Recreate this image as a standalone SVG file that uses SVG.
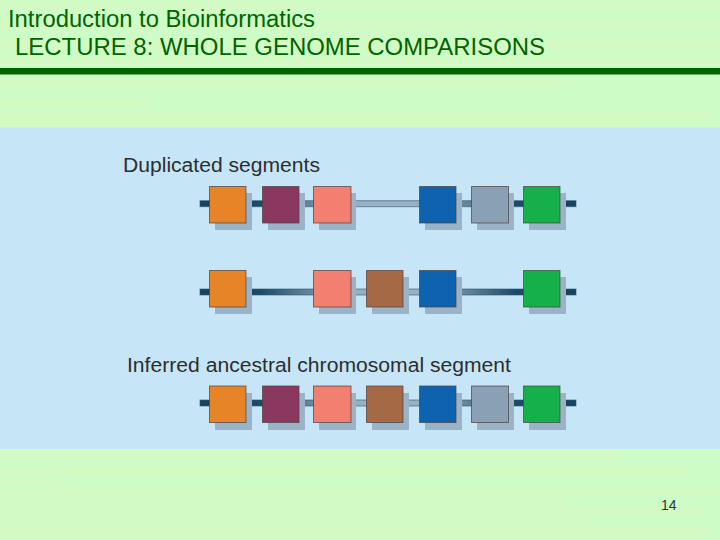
<svg xmlns="http://www.w3.org/2000/svg" width="720" height="540" viewBox="0 0 720 540">
<style>
.title{font-family:"Liberation Sans",Arial,sans-serif;font-size:23px;fill:#006400}
.lbl{font-family:"Liberation Sans",Arial,sans-serif;font-size:19.5px;fill:#2e2e2e}
.num{font-family:"Liberation Sans",Arial,sans-serif;font-size:14px;fill:#333}
.tex{fill:#e2f6b8;opacity:0.3}
.sh{fill:#9bb3c7}
.bx{stroke:#4a4040;stroke-opacity:0.7;stroke-width:1}
.chr{fill:url(#chrg);stroke:#2f5672;stroke-opacity:0.6;stroke-width:1}
.or{fill:#e88428}.pu{fill:#8a3860}.pk{fill:#f28070}.br{fill:#a56a45}.bl{fill:#0f62ae}.gr{fill:#8aa0b4}.gn{fill:#16b04a}
</style>
<defs>
<linearGradient id="chrg" gradientUnits="userSpaceOnUse" x1="200" y1="0" x2="576" y2="0">
<stop offset="0" stop-color="#17425e"/>
<stop offset="0.16" stop-color="#1d4a66"/>
<stop offset="0.28" stop-color="#5f8199"/>
<stop offset="0.4" stop-color="#9ab0c0"/>
<stop offset="0.58" stop-color="#9ab0c0"/>
<stop offset="0.7" stop-color="#6a889c"/>
<stop offset="0.84" stop-color="#1d4a66"/>
<stop offset="1" stop-color="#17425e"/>
</linearGradient>
</defs>
<rect width="720" height="540" fill="#cdfcc6"/>
<g id="texture">
<rect class="tex" x="0" y="2" width="720" height="8"/>
<rect class="tex" x="0" y="22" width="720" height="8"/>
<rect class="tex" x="0" y="40" width="720" height="9"/>
<rect class="tex" x="0" y="57" width="720" height="7"/>
<rect class="tex" x="0" y="80" width="560" height="8"/>
<rect class="tex" x="0" y="101" width="150" height="7"/>
<rect class="tex" x="0" y="112" width="710" height="8"/>
<rect class="tex" x="0" y="120" width="640" height="7"/>
<rect class="tex" x="0" y="452" width="620" height="8"/>
<rect class="tex" x="0" y="468" width="690" height="8"/>
<rect class="tex" x="0" y="478" width="60" height="6"/>
<rect class="tex" x="0" y="487" width="720" height="8"/>
<rect class="tex" x="0" y="498" width="570" height="7"/>
<rect class="tex" x="0" y="508" width="705" height="8"/>
<rect class="tex" x="0" y="518" width="590" height="7"/>
<rect class="tex" x="0" y="528" width="710" height="8"/>
</g>
<rect x="0" y="127.5" width="720" height="321.5" fill="#c6e6f8"/>
<g id="header">
<text class="title" x="8" y="26.5" textLength="307" lengthAdjust="spacingAndGlyphs">Introduction to Bioinformatics</text>
<text class="title" x="15" y="54.5" textLength="530" lengthAdjust="spacingAndGlyphs">LECTURE 8: WHOLE GENOME COMPARISONS</text>
<rect x="0" y="68" width="720" height="6.5" fill="#006400"/>
</g>
<text class="lbl" x="123" y="172" textLength="197" lengthAdjust="spacingAndGlyphs">Duplicated segments</text>
<text class="lbl" x="127" y="372" textLength="384" lengthAdjust="spacingAndGlyphs">Inferred ancestral chromosomal segment</text>
<g id="connectors">
<rect class="chr" x="200" y="200.7" width="376" height="6"/>
<rect class="chr" x="200" y="289" width="376" height="6"/>
<rect class="chr" x="200" y="400" width="376" height="6"/>
</g>
<g id="row1">
<g id="r1-orange"><rect class="sh" x="215" y="193" width="37" height="37"/><rect class="bx or" x="209.5" y="186.5" width="36.5" height="36.5"/></g>
<g id="r1-purple"><rect class="sh" x="268" y="193" width="37" height="37"/><rect class="bx pu" x="262.5" y="186.5" width="36.5" height="36.5"/></g>
<g id="r1-pink"><rect class="sh" x="319" y="193" width="37" height="37"/><rect class="bx pk" x="313.5" y="186.5" width="37.5" height="36.5"/></g>
<g id="r1-blue"><rect class="sh" x="425" y="193" width="37" height="37"/><rect class="bx bl" x="419.5" y="186.5" width="36.5" height="36.5"/></g>
<g id="r1-gray"><rect class="sh" x="477" y="193" width="37" height="37"/><rect class="bx gr" x="471.5" y="186.5" width="37" height="36.5"/></g>
<g id="r1-green"><rect class="sh" x="529" y="193" width="37" height="37"/><rect class="bx gn" x="523.5" y="186.5" width="36.5" height="36.5"/></g>
</g>
<g id="row2">
<g id="r2-orange"><rect class="sh" x="215" y="277" width="37" height="37"/><rect class="bx or" x="209.5" y="270.5" width="36.5" height="36.5"/></g>
<g id="r2-pink"><rect class="sh" x="319" y="277" width="37" height="37"/><rect class="bx pk" x="313.5" y="270.5" width="37.5" height="36.5"/></g>
<g id="r2-brown"><rect class="sh" x="372" y="277" width="37" height="37"/><rect class="bx br" x="366.5" y="270.5" width="36.5" height="36.5"/></g>
<g id="r2-blue"><rect class="sh" x="425" y="277" width="37" height="37"/><rect class="bx bl" x="419.5" y="270.5" width="36.5" height="36.5"/></g>
<g id="r2-green"><rect class="sh" x="529" y="277" width="37" height="37"/><rect class="bx gn" x="523.5" y="270.5" width="36.5" height="36.5"/></g>
</g>
<g id="row3">
<g id="r3-orange"><rect class="sh" x="215" y="393" width="37" height="37"/><rect class="bx or" x="209.5" y="386" width="36.5" height="36.5"/></g>
<g id="r3-purple"><rect class="sh" x="268" y="393" width="37" height="37"/><rect class="bx pu" x="262.5" y="386" width="36.5" height="36.5"/></g>
<g id="r3-pink"><rect class="sh" x="319" y="393" width="37" height="37"/><rect class="bx pk" x="313.5" y="386" width="37.5" height="36.5"/></g>
<g id="r3-brown"><rect class="sh" x="372" y="393" width="37" height="37"/><rect class="bx br" x="366.5" y="386" width="36.5" height="36.5"/></g>
<g id="r3-blue"><rect class="sh" x="425" y="393" width="37" height="37"/><rect class="bx bl" x="419.5" y="386" width="36.5" height="36.5"/></g>
<g id="r3-gray"><rect class="sh" x="477" y="393" width="37" height="37"/><rect class="bx gr" x="471.5" y="386" width="37" height="36.5"/></g>
<g id="r3-green"><rect class="sh" x="529" y="393" width="37" height="37"/><rect class="bx gn" x="523.5" y="386" width="36.5" height="36.5"/></g>
</g>
<text class="num" x="661" y="510">14</text>
</svg>
